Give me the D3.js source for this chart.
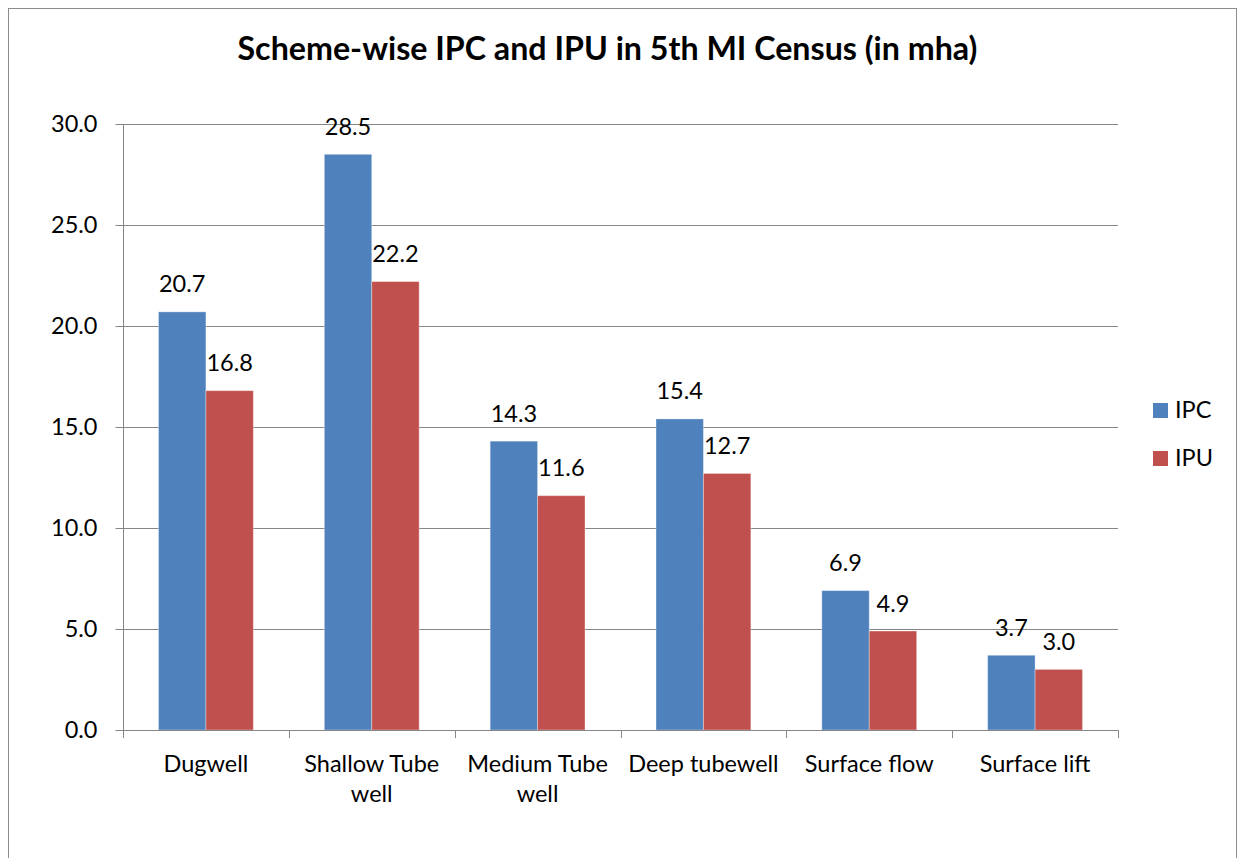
<!DOCTYPE html>
<html>
<head>
<meta charset="utf-8">
<script src="https://cdn.jsdelivr.net/npm/d3@7"></script>
<style>
  html, body { margin: 0; padding: 0; background: #fff; }
  svg { display: block; font-family: "Lato", "Open Sans", sans-serif; }
</style>
</head>
<body>
<svg id="chart" width="1241" height="858"></svg>
<script>
const title = "Scheme-wise IPC and IPU in 5th MI Census (in mha)";
const categories = ["Dugwell", "Shallow Tube well", "Medium Tube well", "Deep tubewell", "Surface flow", "Surface lift"];
const categoryLines = [["Dugwell"], ["Shallow Tube", "well"], ["Medium Tube", "well"], ["Deep tubewell"], ["Surface flow"], ["Surface lift"]];
const seriesNames = ["IPC", "IPU"];
const ipcValues = [20.7, 28.5, 14.3, 15.4, 6.9, 3.7];
const ipuValues = [16.8, 22.2, 11.6, 12.7, 4.9, 3.0];
const seriesColors = ["#4F81BD", "#C0504D"];
const yTicks = [0, 5, 10, 15, 20, 25, 30];

const svg = d3.select("#chart");
const plot = { left: 123, right: 1118, top: 124, bottom: 730 };
const gridColor = "#868686";
const fs = 23.5;

// outer border
svg.append("rect")
  .attr("x", 8.5).attr("y", 8.5)
  .attr("width", 1228).attr("height", 900)
  .attr("fill", "#fff").attr("stroke", "#8c8c8c").attr("stroke-width", 1);

// title
svg.append("text")
  .attr("x", 607.5).attr("y", 59.5)
  .attr("text-anchor", "middle")
  .attr("font-weight", "bold")
  .attr("font-size", 32.2)
  .attr("fill", "#000")
  .text(title);

const y = d3.scaleLinear().domain([0, 30]).range([plot.bottom, plot.top]);
const x0 = d3.scaleBand().domain(categories).range([plot.left, plot.right])
  .paddingInner(0.428).paddingOuter(0.214);
const x1 = d3.scaleBand().domain(seriesNames).range([0, x0.bandwidth()]).padding(0);

// gridlines
svg.append("g").selectAll("line")
  .data(yTicks.filter(t => t > 0))
  .join("line")
  .attr("x1", plot.left).attr("x2", plot.right)
  .attr("y1", d => Math.round(y(d)) + 0.5).attr("y2", d => Math.round(y(d)) + 0.5)
  .attr("stroke", gridColor).attr("stroke-width", 1);

// bars
const data = categories.map((c, i) => ({ cat: c, vals: [ipcValues[i], ipuValues[i]] }));
const groups = svg.append("g").selectAll("g")
  .data(data).join("g")
  .attr("transform", d => `translate(${x0(d.cat)},0)`);

groups.selectAll("rect")
  .data(d => d.vals.map((v, j) => ({ s: seriesNames[j], v, j })))
  .join("rect")
  .attr("x", d => x1(d.s))
  .attr("y", d => y(d.v))
  .attr("width", x1.bandwidth())
  .attr("height", d => y(0) - y(d.v))
  .attr("fill", d => seriesColors[d.j])
  .attr("stroke", "rgba(255,255,255,0.35)")
  .attr("stroke-width", 1);

groups.selectAll("text.val")
  .data(d => d.vals.map((v, j) => ({ s: seriesNames[j], v, j })))
  .join("text")
  .attr("class", "val")
  .attr("x", d => x1(d.s) + x1.bandwidth() / 2)
  .attr("y", d => y(d.v) - 19.5)
  .attr("text-anchor", "middle")
  .attr("font-size", fs)
  .attr("fill", "#000")
  .text(d => d.v.toFixed(1));

// y axis
const yAxis = d3.axisLeft(y).tickValues(yTicks).tickFormat(d3.format(".1f")).tickSize(8).tickPadding(18);
const gy = svg.append("g").attr("transform", `translate(${plot.left + 0.5},0)`).call(yAxis);
gy.select(".domain").attr("stroke", gridColor).attr("d", `M0,${plot.top}V${plot.bottom}`);
gy.selectAll(".tick line").attr("stroke", gridColor);
gy.selectAll(".tick text").attr("font-size", fs).attr("font-family", "Lato, sans-serif").attr("fill", "#000");

// x axis baseline and tick marks at category boundaries
const gx = svg.append("g");
gx.append("line")
  .attr("x1", plot.left).attr("x2", plot.right + 1)
  .attr("y1", plot.bottom + 0.5).attr("y2", plot.bottom + 0.5)
  .attr("stroke", gridColor);
const step = x0.step();
const bounds = d3.range(categories.length + 1).map(i => x0(categories[0]) - x0.paddingOuter() * step + i * step);
gx.selectAll("line.tk").data(bounds).join("line")
  .attr("class", "tk")
  .attr("x1", d => Math.round(d) + 0.5).attr("x2", d => Math.round(d) + 0.5)
  .attr("y1", plot.bottom).attr("y2", plot.bottom + 8)
  .attr("stroke", gridColor);

// category labels
const catLabels = gx.selectAll("text.cat").data(categories).join("text")
  .attr("class", "cat")
  .attr("x", d => x0(d) + x0.bandwidth() / 2)
  .attr("y", 772)
  .attr("text-anchor", "middle")
  .attr("font-size", fs)
  .attr("fill", "#000");
catLabels.each(function(d, i) {
  d3.select(this).selectAll("tspan").data(categoryLines[i]).join("tspan")
    .attr("x", x0(d) + x0.bandwidth() / 2)
    .attr("dy", (t, k) => k === 0 ? 0 : 30)
    .text(t => t);
});

// legend
const legend = svg.append("g").attr("transform", "translate(1153,403)");
seriesNames.forEach((s, i) => {
  const g = legend.append("g").attr("transform", `translate(0,${i * 48})`);
  g.append("rect").attr("width", 15).attr("height", 15).attr("fill", seriesColors[i]);
  g.append("text").attr("x", 22).attr("y", 15).attr("font-size", fs).attr("fill", "#000").text(s);
});
</script>
</body>
</html>
